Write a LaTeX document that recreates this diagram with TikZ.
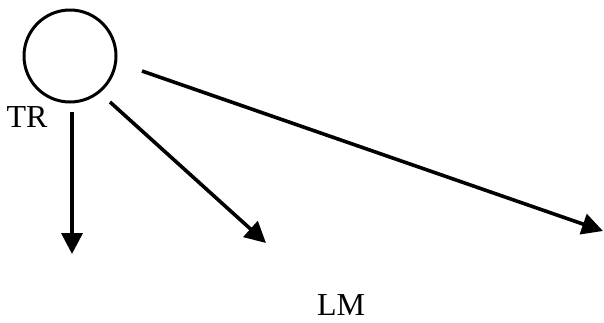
\documentclass[tikz,border=0pt]{standalone}
\usepackage{fontspec}
\setmainfont{Liberation Serif}
\usetikzlibrary{arrows.meta,positioning}

\begin{document}
\begin{tikzpicture}[x=1pt, y=-1pt,
    agent/.style={circle, draw, line width=3pt, minimum size=92pt, inner sep=0pt},
    tag/.style={font=\fontsize{32}{36}\selectfont, inner sep=0pt},
    line/.style={draw, line width=3.6pt, -{Triangle[length=21pt, width=21pt]}}]
    \useasboundingbox (0,0) rectangle (604,322);

    % Nodes
    \node [agent] (tr) at (70,56) {};
    \node [tag] (trlabel) at (27,117.5) {TR};
    \node [tag] (lmlabel) at (341,305) {LM};

    % Ends of the arrows
    \coordinate (s1) at (72,112);
    \coordinate (e1) at (72,254);
    \coordinate (s2) at (110,102);
    \coordinate (e2) at (266,243);
    \coordinate (s3) at (142,71);
    \coordinate (e3) at (603,231);

    % Edges
    \path [line] (s1) -- (e1);
    \path [line] (s2) -- (e2);
    \path [line] (s3) -- (e3);
\end{tikzpicture}
\end{document}
